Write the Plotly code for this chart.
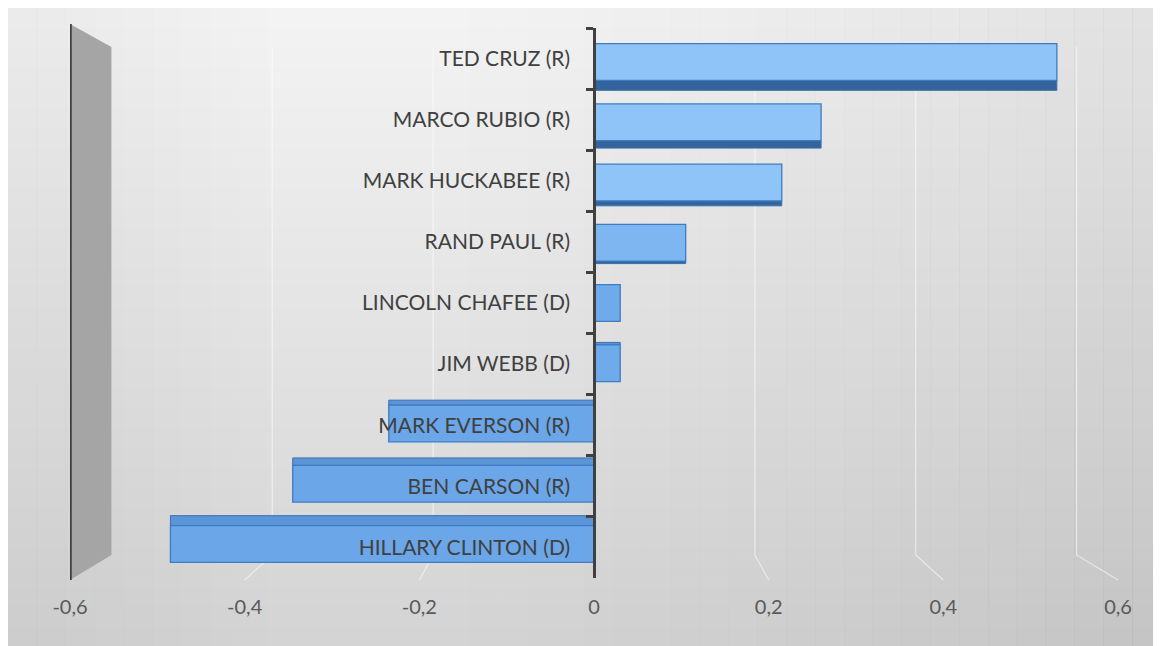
import plotly.graph_objects as go

# ---------------- data ----------------
candidates = ["TED CRUZ (R)", "MARCO RUBIO (R)", "MARK HUCKABEE (R)", "RAND PAUL (R)",
              "LINCOLN CHAFEE (D)", "JIM WEBB (D)", "MARK EVERSON (R)", "BEN CARSON (R)",
              "HILLARY CLINTON (D)"]
scores = [0.53, 0.26, 0.215, 0.105, 0.03, 0.03, -0.235, -0.345, -0.485]
tick_values = [-0.6, -0.4, -0.2, 0, 0.2, 0.4, 0.6]
tick_labels = [f"{v:g}".replace(".", ",") for v in tick_values]
x_range = [-0.6, 0.6]

# ---------------- geometry helpers ----------------
PAGE_OFF = 8                      # browser body margin
W, H = 1161, 646
L, R, T, B = 62, 43 + PAGE_OFF, 20, 68 + PAGE_OFF
PW, PH = W - L - R, H - T - B


def px(xp):            # page pixel -> paper x
    return (xp - PAGE_OFF - L) / PW


def py(yp):            # page pixel -> paper y
    return 1 - (yp - PAGE_OFF - T) / PH


def lerp_col(c1, c2, t):
    return "rgb(%d,%d,%d)" % tuple(round(a + (b - a) * t) for a, b in zip(c1, c2))


n = len(candidates)
mid = (n - 1) / 2
face_w = 0.6
depth_k = 0.041
face_off, band_off, band_w, face_cols, band_cols = [], [], [], [], []
for i, v in enumerate(scores):
    d = i - mid
    s = -0.014 * d
    face_off.append(s - face_w / 2)
    bw = max(depth_k * abs(d), 0.001)
    band_w.append(bw)
    if d < 0:
        band_off.append(s + face_w / 2)
        band_cols.append("#34649c")
    else:
        band_off.append(s - face_w / 2 - bw)
        band_cols.append("#5b95d8")
    t = min(max(v / 0.2, 0), 1)
    face_cols.append(lerp_col((106, 166, 232), (142, 196, 248), t))

fig = go.Figure()

fig.add_trace(go.Bar(
    y=candidates, x=scores, orientation="h", base=0,
    offset=band_off, width=band_w,
    marker=dict(color=band_cols, line=dict(color="#3a70ad", width=1)),
    hoverinfo="skip", showlegend=False,
))
fig.add_trace(go.Bar(
    y=candidates, x=scores, orientation="h", base=0,
    offset=face_off, width=face_w,
    marker=dict(color=face_cols, line=dict(color="#3d7cc2", width=1.3)),
    hoverinfo="skip", showlegend=False,
))

shapes = []
# background gradient
N = 64
for k in range(N):
    y0 = PAGE_OFF + (646 - PAGE_OFF) * k / N
    y1 = PAGE_OFF + (646 - PAGE_OFF) * (k + 1) / N + 0.5
    c = lerp_col((243, 243, 243), (212, 212, 212), k / (N - 1))
    shapes.append(dict(type="rect", xref="paper", yref="paper", layer="below",
                       x0=px(PAGE_OFF), x1=px(1170), y0=py(y1 + 10 if k == N - 1 else y1), y1=py(y0),
                       fillcolor=c, line=dict(width=0)))
M = 40
for k in range(M):
    x0 = PAGE_OFF + (1161 - PAGE_OFF) * k / M
    x1 = PAGE_OFF + (1161 - PAGE_OFF) * (k + 1) / M + 0.5
    f = (k + 0.5) / M
    a = 0.07 * (max(0, f - 0.35) / 0.65) ** 1.3 + 0.035 * (max(0, 0.25 - f) / 0.25)
    shapes.append(dict(type="rect", xref="paper", yref="paper", layer="below",
                       x0=px(x0), x1=px(x1 + 10 if k == M - 1 else x1), y0=py(656), y1=py(PAGE_OFF),
                       fillcolor=f"rgba(0,0,0,{a:.4f})", line=dict(width=0)))

# perspective back-wall gridlines
back_scale = 0.921
wall_top, floor_back, floor_front = py(47), py(555), py(580)
for v in tick_values:
    if v == 0 or v == x_range[0]:
        continue
    xb = v * back_scale
    shapes.append(dict(type="path", xref="x", yref="paper", layer="below",
                       path=f"M {xb},{wall_top} L {xb},{floor_back} L {v},{floor_front}",
                       line=dict(color="rgba(255,255,255,0.55)", width=1.2)))

# left side wall
xl = x_range[0]
xlb = x_range[0] * back_scale
shapes.append(dict(type="path", xref="x", yref="paper", layer="below",
                   path=f"M {xl},{py(24)} L {xlb},{py(47)} L {xlb},{py(555)} L {xl},{py(580)} Z",
                   fillcolor="#a5a5a5", line=dict(width=0)))
shapes.append(dict(type="line", xref="x", yref="paper", layer="below",
                   x0=xl, x1=xl, y0=py(580), y1=py(24),
                   line=dict(color="#3f3f3f", width=3.5)))

fig.update_layout(
    width=W, height=H,
    margin=dict(l=L, r=R, t=T, b=B),
    paper_bgcolor="#dedede",
    plot_bgcolor="rgba(0,0,0,0)",
    barmode="overlay",
    shapes=shapes,
    showlegend=False,
    font=dict(family="Lato, Open Sans, sans-serif"),
    xaxis=dict(
        range=x_range, tickvals=tick_values, ticktext=tick_labels,
        showgrid=False, zeroline=False, showline=False, ticks="",
        ticklabelstandoff=15,
        tickfont=dict(family="Lato", size=20, color="#595959"),
    ),
    yaxis=dict(
        type="category", categoryorder="array", categoryarray=candidates,
        range=[n - 0.5, -0.5],
        anchor="free", position=0.5,
        showline=True, linecolor="#404040", linewidth=2.5,
        ticks="outside", tickson="boundaries", ticklen=7, tickwidth=2.5,
        tickcolor="#404040",
        ticklabelstandoff=19,
        showgrid=False, zeroline=False,
        tickfont=dict(family="Lato", size=21, color="#404040"),
    ),
)

fig.write_html("out.html")
